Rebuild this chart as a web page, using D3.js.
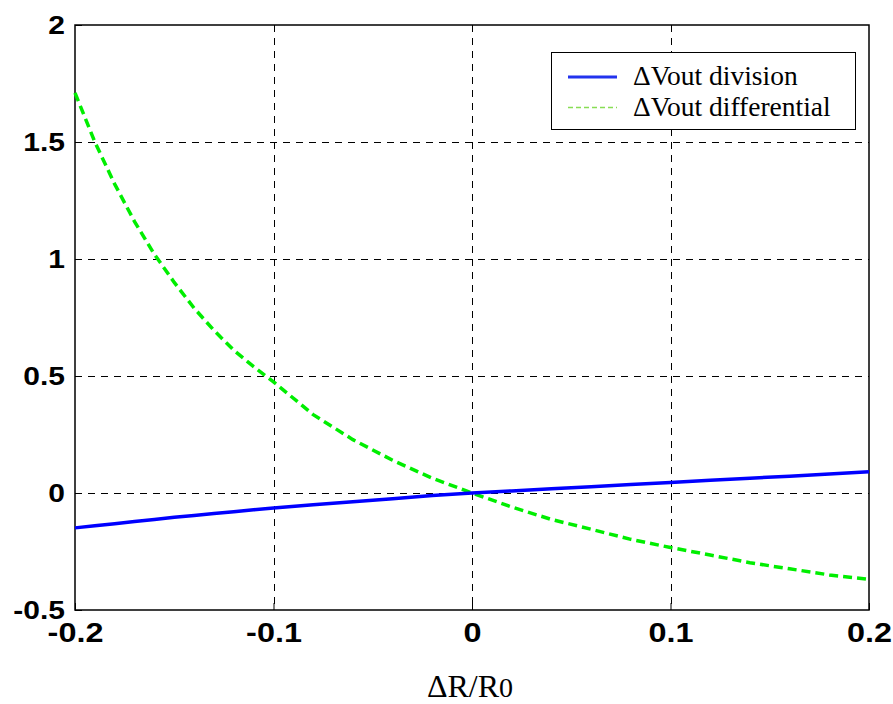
<!DOCTYPE html>
<meta charset="utf-8">
<style>
  body { margin: 0; background: #fff; }
  .tick text { font-family: "Liberation Sans", Arial, sans-serif; font-weight: bold; fill: #000; }
  .xaxis .tick text { font-size: 27px; }
  .yaxis .tick text { font-size: 25px; }
</style>
<body>
<script src="https://cdnjs.cloudflare.com/ajax/libs/d3/7.8.5/d3.min.js"></script>
<script>

// data (ΔR/R0 on x)
var ratio = [-0.2, -0.19, -0.18, -0.17, -0.16, -0.15, -0.14, -0.13, -0.12, -0.11, -0.10,
             -0.08, -0.06, -0.04, -0.02, 0,
             0.02, 0.04, 0.06, 0.08, 0.10, 0.12, 0.14, 0.16, 0.18, 0.20];
var vDivision = [-0.149, -0.140, -0.131, -0.122, -0.113, -0.104, -0.096, -0.088, -0.080, -0.072, -0.064,
                 -0.050, -0.037, -0.025, -0.011, 0,
                 0.009, 0.018, 0.027, 0.036, 0.045, 0.054, 0.063, 0.072, 0.081, 0.091];
var vDifferential = [1.71, 1.50, 1.32, 1.16, 1.02, 0.90, 0.79, 0.695, 0.61, 0.54, 0.475,
                     0.335, 0.228, 0.14, 0.063, 0,
                     -0.06, -0.113, -0.155, -0.198, -0.233, -0.265, -0.298, -0.324, -0.35, -0.369];
var xTicks = [-0.2, -0.1, 0, 0.1, 0.2];
var yTicks = [-0.5, 0, 0.5, 1, 1.5, 2];
var seriesNames = ["\u0394Vout division", "\u0394Vout differential"];

var W = 893, H = 704;
var m = {left: 75, right: 869, top: 25, bottom: 610};

var x = d3.scaleLinear().domain([-0.2, 0.2]).range([m.left, m.right]);
var y = d3.scaleLinear().domain([-0.5, 2]).range([m.bottom, m.top]);

var svg = d3.select("body").append("svg")
    .attr("width", W)
    .attr("height", H);

// grid
var grid = svg.append("g").attr("stroke", "#000").attr("stroke-width", 1)
    .attr("stroke-dasharray", "7,6");
grid.selectAll(".gx").data(xTicks.slice(1, -1)).enter().append("line")
    .attr("x1", d => Math.round(x(d)) + 0.5).attr("x2", d => Math.round(x(d)) + 0.5)
    .attr("y1", m.top).attr("y2", m.bottom);
grid.selectAll(".gy").data(yTicks.slice(1, -1)).enter().append("line")
    .attr("y1", d => Math.round(y(d)) + 0.5).attr("y2", d => Math.round(y(d)) + 0.5)
    .attr("x1", m.left).attr("x2", m.right);

// axes
var fmt = d => d == 0 ? "0" : String(d);
svg.append("g")
    .attr("class", "xaxis")
    .attr("transform", "translate(0," + m.bottom + ")")
    .call(d3.axisBottom(x).tickValues(xTicks).tickSizeInner(-7).tickSizeOuter(0).tickPadding(13).tickFormat(fmt))
    .call(g => g.select(".domain").remove())
    .call(g => g.selectAll(".tick line").attr("stroke", "#000"))
    .call(g => g.selectAll(".tick text").attr("transform", "scale(1.2,1)"));
svg.append("g")
    .attr("class", "yaxis")
    .attr("transform", "translate(" + m.left + ",0)")
    .call(d3.axisLeft(y).tickValues(yTicks).tickSizeInner(-7).tickSizeOuter(0).tickPadding(10).tickFormat(fmt))
    .call(g => g.select(".domain").remove())
    .call(g => g.selectAll(".tick line").attr("stroke", "#000"))
    .call(g => g.selectAll(".tick text").attr("x", -10 / 1.2).attr("transform", "scale(1.2,1)"));

// frame
svg.append("rect")
    .attr("x", m.left).attr("y", m.top)
    .attr("width", m.right - m.left).attr("height", m.bottom - m.top)
    .attr("fill", "none").attr("stroke", "#000").attr("stroke-width", 1.5);

// lines
var line = d3.line().x(d => x(d[0])).y(d => y(d[1]));

svg.append("path")
    .datum(ratio.map((r, i) => [r, vDifferential[i]]))
    .attr("fill", "none")
    .attr("stroke", "#00ee00")
    .attr("stroke-width", 3.5)
    .attr("stroke-dasharray", "9,5")
    .attr("d", line);

svg.append("path")
    .datum(ratio.map((r, i) => [r, vDivision[i]]))
    .attr("fill", "none")
    .attr("stroke", "#0000ff")
    .attr("stroke-width", 3.5)
    .attr("d", line);

// legend
var leg = svg.append("g");
leg.append("rect")
    .attr("x", 551.5).attr("y", 52.5).attr("width", 304).attr("height", 77)
    .attr("fill", "#fff").attr("stroke", "#000").attr("stroke-width", 1);
leg.append("line")
    .attr("x1", 568).attr("x2", 617).attr("y1", 77).attr("y2", 77)
    .attr("stroke", "#2233ee").attr("stroke-width", 3);
leg.append("line")
    .attr("x1", 568).attr("x2", 617).attr("y1", 107.5).attr("y2", 107.5)
    .attr("stroke", "#88dd55").attr("stroke-width", 1.5).attr("stroke-dasharray", "5,3");
leg.selectAll("text").data(seriesNames).enter().append("text")
    .attr("x", 633)
    .attr("y", (d, i) => 85 + i * 30.5)
    .attr("font-family", "'Liberation Serif', 'Times New Roman', serif")
    .attr("font-size", 27.5)
    .text(d => d);

// x axis title
var t = svg.append("text")
    .attr("x", 470).attr("y", 697)
    .attr("text-anchor", "middle")
    .attr("font-family", "'Liberation Serif', 'Times New Roman', serif")
    .attr("font-size", 32)
    .text("\u0394R/R");
t.append("tspan").attr("font-size", 28).text("0");

</script>
</body>
</html>
